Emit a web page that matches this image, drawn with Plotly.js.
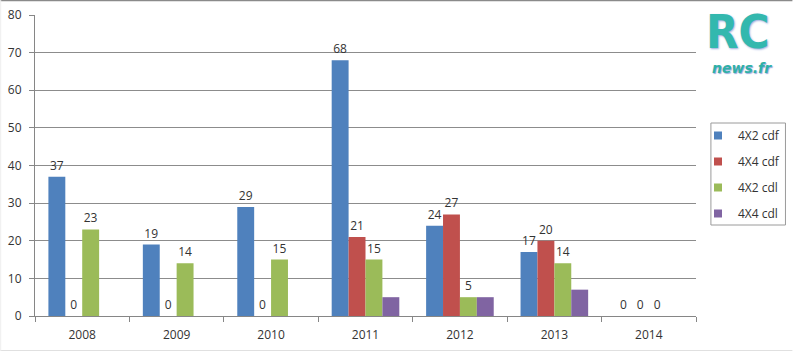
<!DOCTYPE html>
<html>
<head>
<meta charset="utf-8">
<script src="https://cdn.plot.ly/plotly-3.0.1.min.js"></script>
<style>
html,body{margin:0;padding:0;background:#fff;}
#chart{width:797px;height:352px;}
</style>
</head>
<body>
<div id="chart"></div>
<script>
var years = ["2008","2009","2010","2011","2012","2013","2014"];
var seriesNames = ["4X2 cdf","4X4 cdf","4X2 cdl","4X4 cdl"];
var cdf4x2 = [37, 19, 29, 68, 24, 17, 0];
var cdf4x4 = [0, 0, 0, 21, 27, 20, 0];
var cdl4x2 = [23, 14, 15, 15, 5, 14, 0];
var cdl4x4 = [null, null, null, 5, 5, 7, null];
var showLabels = [true, true, true, false];
var colors = ["#4F81BD", "#C0504D", "#9BBB59", "#8064A2"];
var yTicks = [0,10,20,30,40,50,60,70,80];

var L = 35, R = 700, T = 15, B = 316, W = 797, H = 352;
function px(x){ return (x - L) / (R - L); }
function py(y){ return (B - y) / (B - T); }

var allSeries = [cdf4x2, cdf4x4, cdl4x2, cdl4x4];
var fontFam = "Open Sans, sans-serif";
var data = [];
allSeries.forEach(function(vals, i){
  data.push({
    type: "bar",
    x: years,
    y: vals,
    name: seriesNames[i],
    marker: {color: colors[i], line: {width: 0}},
    text: showLabels[i] ? vals.map(function(v){ return v === null ? "" : String(v); }) : null,
    textposition: showLabels[i] ? "outside" : "none",
    textfont: {family: fontFam, size: 12, color: "#333"},
    cliponaxis: false,
    showlegend: false,
    hoverinfo: "x+y+name"
  });
});
allSeries.forEach(function(vals, i){
  data.push({
    type: "scatter",
    mode: "markers",
    x: [null], y: [null],
    name: seriesNames[i],
    legendgroup: "g" + i,
    marker: {symbol: "square", size: 8, color: colors[i]},
    showlegend: true
  });
});

var layout = {
  width: W, height: H,
  margin: {l: L, r: W - R, t: T, b: H - B, pad: 0},
  paper_bgcolor: "#fff",
  plot_bgcolor: "#fff",
  font: {family: fontFam, size: 12, color: "#333"},
  barmode: "group",
  bargap: 0.284,
  bargroupgap: 0,
  showlegend: true,
  legend: {
    x: px(702), y: py(121), xanchor: "left", yanchor: "top",
    bgcolor: "rgba(0,0,0,0)", borderwidth: 0,
    traceorder: "grouped", tracegroupgap: 7,
    font: {family: fontFam, size: 12, color: "#333"}
  },
  xaxis: {
    type: "category",
    showline: true, linecolor: "#868686", linewidth: 1,
    ticks: "outside", tickson: "boundaries", ticklen: 5, tickcolor: "#868686",
    ticklabelstandoff: 8,
    showgrid: false, zeroline: false,
    tickfont: {family: fontFam, size: 12, color: "#333"},
    fixedrange: true
  },
  yaxis: {
    range: [0, 80], tickvals: yTicks,
    showline: true, linecolor: "#868686", linewidth: 1,
    ticks: "outside", ticklen: 5, tickcolor: "#868686",
    ticklabelstandoff: 5,
    showgrid: true, gridcolor: "#8c8c8c", gridwidth: 1,
    zeroline: false,
    tickfont: {family: fontFam, size: 12, color: "#333"},
    fixedrange: true
  },
  shapes: [
    {type: "rect", xref: "paper", yref: "paper", x0: px(715), x1: px(790), y0: py(225), y1: py(123),
     line: {color: "#9a9a9a", width: 1}, fillcolor: "rgba(0,0,0,0)"},
    {type: "line", xref: "paper", yref: "paper", x0: px(0), x1: px(W), y0: py(0.5), y1: py(0.5),
     line: {color: "#8a8a8a", width: 1.5}},
    {type: "line", xref: "paper", yref: "paper", x0: px(0), x1: px(W), y0: py(350.5), y1: py(350.5),
     line: {color: "#e0e0e0", width: 1}},
    {type: "line", xref: "paper", yref: "paper", x0: px(0.5), x1: px(0.5), y0: py(0), y1: py(351),
     line: {color: "#eeeeee", width: 1}}
  ],
  annotations: [
    {xref: "paper", yref: "paper", x: px(742), y: py(60), text: "<b>RC</b>", showarrow: false,
     font: {family: "Liberation Sans Narrow, DejaVu Sans Condensed, sans-serif", size: 47, color: "#33b8ae", shadow: "1px 1px 2px #9ad"},
     xanchor: "center", yanchor: "bottom", borderpad: 0},
    {xref: "paper", yref: "paper", x: px(746), y: py(59), text: "<b><i>news.fr</i></b>", showarrow: false,
     font: {family: "DejaVu Sans, sans-serif", size: 14, color: "#2fb0a6", shadow: "1px 1px 1px #9ad"},
     xanchor: "center", yanchor: "top", borderpad: 0}
  ]
};

Plotly.newPlot("chart", data, layout, {displayModeBar: false, staticPlot: true});
</script>
</body>
</html>
